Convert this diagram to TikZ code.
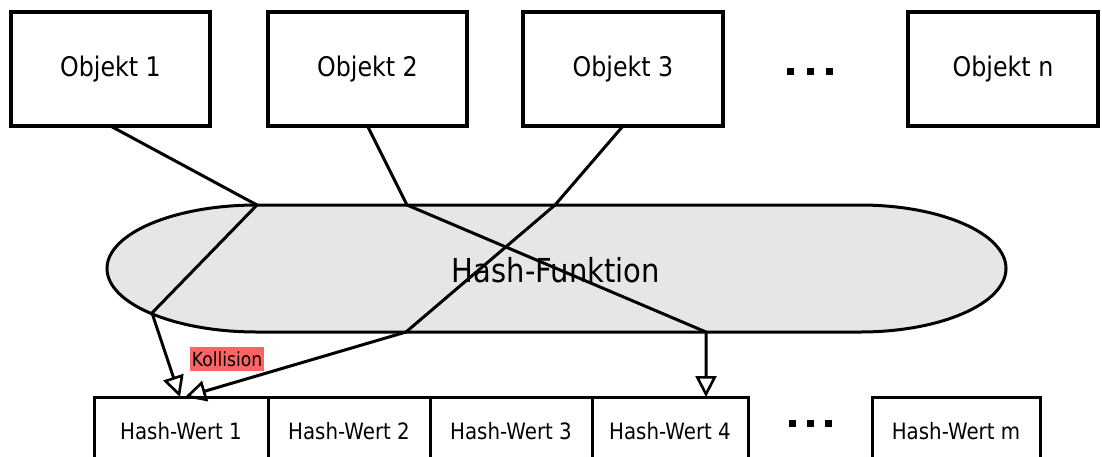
\documentclass[tikz,border=0pt]{standalone}
\usepackage{fontspec}
\setmainfont[FakeStretch=0.88]{DejaVu Sans}
\usetikzlibrary{arrows.meta}
\definecolor{hashgray}{HTML}{E6E6E6}
\definecolor{collred}{HTML}{FF6464}
\tikzset{
  objbox/.style={draw, line width=3.2pt, minimum width=#1, minimum height=114pt,
    inner sep=0pt, outer sep=0pt, font=\fontsize{27}{31}\selectfont},
  valbox/.style={draw, line width=3pt, minimum width=#1, minimum height=68pt,
    inner sep=0pt, outer sep=0pt, font=\fontsize{22.5}{26}\selectfont},
  link/.style={line width=3pt, line join=miter},
  arr/.style={link, -{Triangle[open, length=21pt, width=21pt, line width=2.6pt]}},
  dot/.style={fill=black},
}
\begin{document}
\begin{tikzpicture}[x=1pt, y=-1pt]
  \useasboundingbox (0,0) rectangle (1102,456);
  \clip (0,0) rectangle (1102,456);

  % objects
  \node[objbox=199pt] (o1) at (110.5,69) {Objekt 1};
  \node[objbox=199pt] (o2) at (367.5,69) {Objekt 2};
  \node[objbox=200pt] (o3) at (623,69) {Objekt 3};
  \node[objbox=190pt] (on) at (1003,69) {Objekt n};
  \foreach \x in {790,810,829} \fill[dot] (\x-3.5,68) rectangle (\x+3.5,75);

  % hash function
  \fill[hashgray] (257,205) -- (860,205) arc[start angle=90, end angle=-90, x radius=146, y radius=-63.5]
    -- (257,332) arc[start angle=270, end angle=90, x radius=150, y radius=-63.5] -- cycle;
  \draw[line width=3pt] (257,205) -- (860,205) arc[start angle=90, end angle=-90, x radius=146, y radius=-63.5]
    -- (257,332) arc[start angle=270, end angle=90, x radius=150, y radius=-63.5] -- cycle;
  \node[font=\fontsize{33}{37}\selectfont] (hf) at (556,270) {Hash-Funktion};

  % hash values
  \node[valbox=174pt] (h1) at (181,431) {Hash-Wert 1};
  \node[valbox=162pt] (h2) at (349,431) {Hash-Wert 2};
  \node[valbox=162pt] (h3) at (511,431) {Hash-Wert 3};
  \node[valbox=156pt] (h4) at (670,431) {Hash-Wert 4};
  \node[valbox=168pt] (hm) at (956,431) {Hash-Wert m};
  \foreach \x in {792,810,828} \fill[dot] (\x-3.5,420) rectangle (\x+3.5,427);

  % routes through the hash function
  \coordinate (a1) at (257,205);
  \coordinate (a2) at (152,313);
  \coordinate (b1) at (407,205);
  \coordinate (b2) at (706,332);
  \coordinate (c1) at (555,205);
  \coordinate (c2) at (406,332);

  \draw[arr] (o1.south) -- (a1) -- (a2) -- ([xshift=-1pt]h1.north);
  \draw[arr] (o3.south) -- (c1) -- (c2) -- ([xshift=4pt]h1.north);
  \draw[arr] (o2.south) -- (b1) -- (b2) -- (h4.north -| b2);

  \node[fill=collred, inner sep=1.5pt, minimum height=24pt, font=\fontsize{19.5}{22}\selectfont] (coll) at (227,359) {Kollision};
\end{tikzpicture}
\end{document}
